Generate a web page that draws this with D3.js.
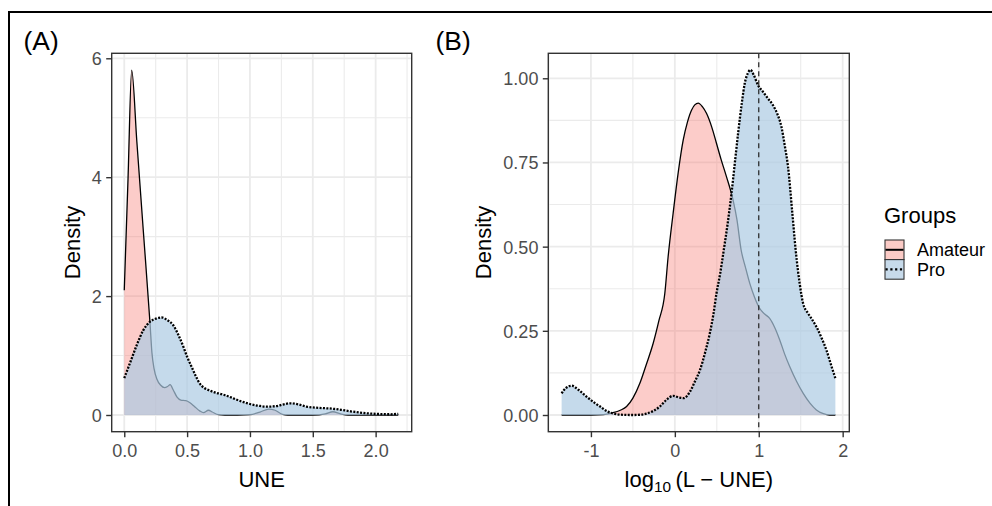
<!DOCTYPE html>
<html>
<head>
<meta charset="utf-8">
<script src="https://cdn.jsdelivr.net/npm/d3@7"></script>
<style>
  html, body { margin: 0; padding: 0; background: #fff; }
  svg { display: block; font-family: "Liberation Sans", Arial, Helvetica, sans-serif; }
</style>
</head>
<body>
<svg id="chart" width="992" height="506"></svg>
<script>
// ---- Panel A: density of UNE ----
const uneAmateurX = [0.00, 0.03, 0.059, 0.10, 0.15, 0.205, 0.22, 0.237, 0.26, 0.29, 0.32, 0.345, 0.365, 0.39, 0.42, 0.45, 0.49, 0.52, 0.56, 0.60, 0.63, 0.67, 0.70, 0.75, 0.80, 0.90, 1.00, 1.08, 1.15, 1.20, 1.26, 1.30, 1.50, 1.60, 1.66, 1.72, 1.78, 2.00, 2.18];
const uneAmateurY = [2.10, 3.98, 5.80, 4.60, 3.14, 1.54, 1.05, 0.78, 0.60, 0.50, 0.46, 0.48, 0.51, 0.42, 0.30, 0.25, 0.24, 0.21, 0.14, 0.07, 0.04, 0.08, 0.05, 0.005, 0.0, 0.0, 0.005, 0.05, 0.10, 0.08, 0.01, 0.0, 0.0, 0.02, 0.055, 0.02, 0.0, 0.0, 0.0];
const uneProX = [0.00, 0.05, 0.10, 0.15, 0.205, 0.25, 0.30, 0.34, 0.39, 0.43, 0.47, 0.50, 0.536, 0.57, 0.60, 0.64, 0.67, 0.72, 0.775, 0.82, 0.868, 0.93, 1.00, 1.07, 1.13, 1.21, 1.27, 1.32, 1.38, 1.45, 1.55, 1.66, 1.73, 1.80, 1.92, 2.05, 2.12, 2.18];
const uneProY = [0.62, 0.90, 1.18, 1.42, 1.57, 1.62, 1.64, 1.60, 1.51, 1.35, 1.15, 0.98, 0.81, 0.65, 0.53, 0.45, 0.42, 0.38, 0.35, 0.32, 0.28, 0.23, 0.185, 0.155, 0.14, 0.15, 0.18, 0.197, 0.18, 0.14, 0.12, 0.105, 0.085, 0.062, 0.03, 0.015, 0.012, 0.02];

// ---- Panel B: density of log10(L - UNE) ----
const logAmateurX = [-1.349, -1.0, -0.85, -0.75, -0.65, -0.575, -0.50, -0.417, -0.34, -0.258, -0.19, -0.12, -0.08, -0.02, 0.04, 0.10, 0.15, 0.20, 0.278, 0.33, 0.377, 0.44, 0.496, 0.55, 0.615, 0.694, 0.74, 0.79, 0.84, 0.893, 0.95, 1.01, 1.07, 1.13, 1.19, 1.25, 1.31, 1.37, 1.45, 1.53, 1.61, 1.687, 1.77, 1.845, 1.913];
const logAmateurY = [0.0, 0.0, 0.001, 0.006, 0.014, 0.025, 0.05, 0.094, 0.15, 0.213, 0.28, 0.36, 0.47, 0.60, 0.72, 0.817, 0.87, 0.906, 0.926, 0.915, 0.896, 0.855, 0.807, 0.76, 0.708, 0.638, 0.58, 0.49, 0.44, 0.391, 0.35, 0.317, 0.30, 0.287, 0.26, 0.223, 0.18, 0.143, 0.10, 0.064, 0.035, 0.015, 0.004, 0.0, 0.0];
const logProX = [-1.349, -1.30, -1.23, -1.15, -1.05, -0.95, -0.89, -0.80, -0.754, -0.65, -0.50, -0.40, -0.34, -0.25, -0.18, -0.10, -0.02, 0.05, 0.10, 0.15, 0.18, 0.24, 0.30, 0.36, 0.417, 0.46, 0.496, 0.54, 0.583, 0.63, 0.675, 0.72, 0.754, 0.80, 0.833, 0.87, 0.90, 0.94, 0.99, 1.05, 1.11, 1.17, 1.22, 1.27, 1.31, 1.349, 1.40, 1.44, 1.488, 1.528, 1.587, 1.64, 1.687, 1.75, 1.806, 1.86, 1.913];
const logProY = [0.064, 0.080, 0.087, 0.075, 0.054, 0.035, 0.025, 0.010, 0.006, 0.001, 0.0, 0.001, 0.004, 0.013, 0.025, 0.045, 0.057, 0.052, 0.050, 0.058, 0.069, 0.10, 0.134, 0.185, 0.243, 0.30, 0.361, 0.42, 0.49, 0.57, 0.658, 0.76, 0.837, 0.93, 0.985, 1.015, 1.025, 1.01, 0.98, 0.96, 0.94, 0.92, 0.895, 0.856, 0.80, 0.737, 0.60, 0.49, 0.39, 0.332, 0.302, 0.282, 0.262, 0.228, 0.193, 0.15, 0.109];
const referenceLine = 1;

// ---- Tick labels and groups ----
const groups = ["Amateur", "Pro"];
const uneXTicks = [0, 0.5, 1.0, 1.5, 2.0];
const uneXTickLabels = ["0.0", "0.5", "1.0", "1.5", "2.0"];
const uneXMinor = [0.25, 0.75, 1.25, 1.75, 2.25];
const uneYTicks = [0, 2, 4, 6];
const uneYTickLabels = ["0", "2", "4", "6"];
const uneYMinor = [1, 3, 5];
const logXTicks = [-1, 0, 1, 2];
const logXTickLabels = ["-1", "0", "1", "2"];
const logXMinor = [-1.5, -0.5, 0.5, 1.5];
const logYTicks = [0, 0.25, 0.5, 0.75, 1.0];
const logYTickLabels = ["0.00", "0.25", "0.50", "0.75", "1.00"];
const logYMinor = [0.125, 0.375, 0.625, 0.875];

// ---- Styling ----
const style = {
  Amateur: { fill: "rgba(248,118,109,0.37)", key: "#FBCBC6", width: 1.3, keyWidth: 2, dash: null, keyDash: null },
  Pro: { fill: "rgba(172,202,226,0.7)", key: "#C7DAEA", width: 2.3, keyWidth: 2.2, dash: "2,1.4", keyDash: "2.2,2.6" }
};
const gridColor = "#EBEBEB";
const inkColor = "#333333";
const tickTextColor = "#4D4D4D";
const tickFont = 18, titleFont = 22, tagFont = 26.4;

const svg = d3.select("#chart");

// outer frame (top and left rules)
svg.append("path")
  .attr("d", "M9,506 V12 H992")
  .attr("fill", "none").attr("stroke", "#000").attr("stroke-width", 2);

function zip(xs, ys) { return xs.map((x, i) => [x, ys[i]]); }

function drawPanel(cfg) {
  const g = svg.append("g");
  const x = d3.scaleLinear().domain(cfg.xDomain).range([cfg.left, cfg.right]);
  const y = d3.scaleLinear().domain(cfg.yDomain).range([cfg.bottom, cfg.top]);

  // background grid
  const grid = g.append("g");
  const vLine = (v, w) => grid.append("line")
    .attr("x1", x(v)).attr("x2", x(v)).attr("y1", cfg.top).attr("y2", cfg.bottom)
    .attr("stroke", gridColor).attr("stroke-width", w);
  const hLine = (v, w) => grid.append("line")
    .attr("y1", y(v)).attr("y2", y(v)).attr("x1", cfg.left).attr("x2", cfg.right)
    .attr("stroke", gridColor).attr("stroke-width", w);
  cfg.xMinor.filter(v => x(v) > cfg.left && x(v) < cfg.right).forEach(v => vLine(v, 1.1));
  cfg.yMinor.forEach(v => hLine(v, 1.1));
  cfg.xTicks.forEach(v => vLine(v, 1.8));
  cfg.yTicks.forEach(v => hLine(v, 1.8));

  // density layers, group by group: area then upper outline
  const area = d3.area().x(d => x(d[0])).y0(y(0)).y1(d => y(d[1])).curve(d3.curveMonotoneX);
  const line = d3.line().x(d => x(d[0])).y(d => y(d[1])).curve(d3.curveMonotoneX);
  cfg.series.forEach(s => {
    const pts = zip(s.x, s.y);
    const st = style[s.group];
    g.append("path").attr("d", area(pts)).attr("fill", st.fill);
    const p = g.append("path").attr("d", line(pts))
      .attr("fill", "none").attr("stroke", "#000").attr("stroke-width", st.width)
      .attr("stroke-linejoin", "round");
    if (st.dash) p.attr("stroke-dasharray", st.dash);
  });

  if (cfg.vline !== undefined) {
    g.append("line")
      .attr("x1", x(cfg.vline)).attr("x2", x(cfg.vline))
      .attr("y1", cfg.top).attr("y2", cfg.bottom)
      .attr("stroke", "#222").attr("stroke-width", 1.2).attr("stroke-dasharray", "5,4");
  }

  // panel border
  g.append("rect")
    .attr("x", cfg.left).attr("y", cfg.top)
    .attr("width", cfg.right - cfg.left).attr("height", cfg.bottom - cfg.top)
    .attr("fill", "none").attr("stroke", inkColor).attr("stroke-width", 1.4);

  // axes
  const xAxis = d3.axisBottom(x).tickValues(cfg.xTicks)
    .tickFormat((d, i) => cfg.xLabels[i]).tickSize(5.5).tickPadding(4.6);
  const yAxis = d3.axisLeft(y).tickValues(cfg.yTicks)
    .tickFormat((d, i) => cfg.yLabels[i]).tickSize(5.5).tickPadding(4.4);
  const ax = g.append("g").attr("transform", `translate(0,${cfg.bottom})`).call(xAxis);
  const ay = g.append("g").attr("transform", `translate(${cfg.left},0)`).call(yAxis);
  [ax, ay].forEach(a => {
    a.select(".domain").remove();
    a.selectAll(".tick line").attr("stroke", inkColor).attr("stroke-width", 1.4);
    a.selectAll(".tick text")
      .attr("fill", tickTextColor).attr("font-size", tickFont)
      .attr("font-family", "Liberation Sans, Arial, sans-serif");
  });
  ax.selectAll(".tick text").attr("dy", null).attr("y", 0)
    .attr("transform", "translate(0,25)");
  ay.selectAll(".tick text").attr("dy", "0.36em");

  // axis titles
  g.append("text")
    .attr("transform", `translate(${cfg.yTitleX},${(cfg.top + cfg.bottom) / 2}) rotate(-90)`)
    .attr("text-anchor", "middle").attr("font-size", titleFont).attr("fill", "#000")
    .text("Density");
  const xt = g.append("text")
    .attr("x", (cfg.left + cfg.right) / 2).attr("y", 487.3)
    .attr("text-anchor", "middle").attr("font-size", titleFont).attr("fill", "#000");
  cfg.xTitle(xt);

  // panel tag
  svg.append("text").attr("x", cfg.tagX).attr("y", 49.5)
    .attr("font-size", tagFont).attr("fill", "#000").text(cfg.tag);
}

drawPanel({
  left: 111.7, right: 411.7, top: 53.3, bottom: 431.7,
  xDomain: [-0.1, 2.287], yDomain: [-0.281, 6.084],
  xTicks: uneXTicks, xLabels: uneXTickLabels, xMinor: uneXMinor,
  yTicks: uneYTicks, yLabels: uneYTickLabels, yMinor: uneYMinor,
  series: [
    { group: "Amateur", x: uneAmateurX, y: uneAmateurY },
    { group: "Pro", x: uneProX, y: uneProY }
  ],
  yTitleX: 80,
  xTitle: t => t.text("UNE"),
  tag: "(A)", tagX: 23.5
});

drawPanel({
  left: 548.3, right: 849.3, top: 53.3, bottom: 431.7,
  xDomain: [-1.508, 2.079], yDomain: [-0.0496, 1.0742],
  xTicks: logXTicks, xLabels: logXTickLabels, xMinor: logXMinor,
  yTicks: logYTicks, yLabels: logYTickLabels, yMinor: logYMinor,
  series: [
    { group: "Amateur", x: logAmateurX, y: logAmateurY },
    { group: "Pro", x: logProX, y: logProY }
  ],
  vline: referenceLine,
  yTitleX: 491,
  xTitle: t => {
    t.append("tspan").text("log");
    t.append("tspan").attr("font-size", 15.4).attr("dy", 5).text("10");
    t.append("tspan").attr("dy", -5).text("\u2009(L \u2212 UNE)");
  },
  tag: "(B)", tagX: 435.5
});

// legend
const legend = svg.append("g");
legend.append("text").attr("x", 884).attr("y", 222.5)
  .attr("font-size", titleFont).attr("fill", "#000").text("Groups");
groups.forEach((grp, i) => {
  const ky = 240 + i * 19.6;
  const st = style[grp];
  legend.append("rect").attr("x", 885).attr("y", ky).attr("width", 19).attr("height", 19.6)
    .attr("fill", st.key).attr("stroke", inkColor).attr("stroke-width", 1.1);
  const l = legend.append("line").attr("x1", 885.5).attr("x2", 903.5)
    .attr("y1", ky + 9.8).attr("y2", ky + 9.8)
    .attr("stroke", "#000").attr("stroke-width", st.keyWidth);
  if (st.keyDash) l.attr("stroke-dasharray", st.keyDash);
  legend.append("text").attr("x", 917).attr("y", ky + 16.1)
    .attr("font-size", tickFont).attr("fill", "#000").text(grp);
});
</script>
</body>
</html>
